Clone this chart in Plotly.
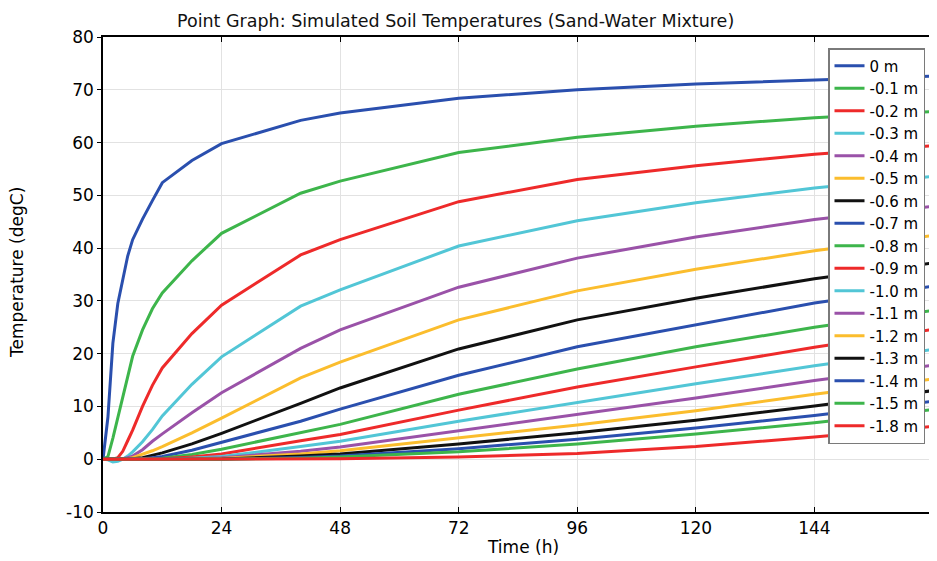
import plotly.graph_objects as go

time_h = [0, 1, 2, 3, 4, 5, 6, 8, 10, 12, 18, 24, 40, 48, 72, 96, 120, 144, 168]

depth_labels = ["0 m", "-0.1 m", "-0.2 m", "-0.3 m", "-0.4 m", "-0.5 m", "-0.6 m",
                "-0.7 m", "-0.8 m", "-0.9 m", "-1.0 m", "-1.1 m", "-1.2 m", "-1.3 m",
                "-1.4 m", "-1.5 m", "-1.8 m"]

t_0m   = [0, 8, 22, 29.5, 34, 38.5, 41.6, 45.5, 49, 52.4, 56.6, 59.8, 64.2, 65.6, 68.4, 70.0, 71.1, 71.9, 72.6]
t_01m  = [0, 0.5, 4, 8, 12, 16, 19.5, 24.5, 28.5, 31.5, 37.6, 42.8, 50.4, 52.7, 58.1, 61.0, 63.1, 64.7, 65.9]
t_02m  = [0, 0, 0, 0.3, 1.5, 3.5, 5.5, 10, 14, 17.3, 23.8, 29.2, 38.7, 41.6, 48.8, 53.0, 55.6, 57.8, 59.4]
t_03m  = [0, -0.1, -0.5, -0.4, 0, 0.6, 1.4, 3.3, 5.6, 8.2, 14.2, 19.4, 29.0, 32.1, 40.4, 45.2, 48.6, 51.4, 53.6]
t_04m  = [0, 0, 0, 0, 0.1, 0.3, 0.6, 1.8, 3.4, 4.8, 8.8, 12.6, 21.0, 24.5, 32.6, 38.1, 42.1, 45.4, 47.9]
t_05m  = [0, 0, 0, 0, 0, 0.1, 0.3, 0.9, 1.6, 2.4, 5.0, 7.8, 15.4, 18.4, 26.4, 31.9, 36.0, 39.5, 42.4]
t_06m  = [0, 0, 0, 0, 0, 0, 0.1, 0.3, 0.7, 1.2, 2.9, 4.9, 10.6, 13.5, 20.9, 26.4, 30.5, 34.2, 37.2]
t_07m  = [0, 0, 0, 0, 0, 0, 0, 0.1, 0.3, 0.5, 1.7, 3.2, 7.2, 9.5, 15.9, 21.3, 25.4, 29.6, 32.8]
t_08m  = [0, 0, 0, 0, 0, 0, 0, 0, 0.1, 0.2, 0.9, 1.9, 5.1, 6.6, 12.3, 17.1, 21.3, 25.0, 28.2]
t_09m  = [0, 0, 0, 0, 0, 0, 0, 0, 0, 0.1, 0.4, 1.0, 3.5, 4.7, 9.3, 13.7, 17.5, 21.2, 24.6]
t_10m  = [0, 0, 0, 0, 0, 0, 0, 0, 0, 0, 0.2, 0.5, 2.4, 3.4, 7.2, 10.8, 14.3, 17.7, 20.8]
t_11m  = [0, 0, 0, 0, 0, 0, 0, 0, 0, 0, 0.1, 0.3, 1.5, 2.3, 5.4, 8.5, 11.6, 14.9, 17.8]
t_12m  = [0, 0, 0, 0, 0, 0, 0, 0, 0, 0, 0, 0.15, 1.0, 1.6, 4.0, 6.5, 9.2, 12.3, 15.2]
t_13m  = [0, 0, 0, 0, 0, 0, 0, 0, 0, 0, 0, 0.05, 0.6, 1.0, 2.9, 5.0, 7.4, 10.1, 13.0]
t_14m  = [0, 0, 0, 0, 0, 0, 0, 0, 0, 0, 0, 0, 0.35, 0.6, 2.0, 3.8, 5.9, 8.3, 11.0]
t_15m  = [0, 0, 0, 0, 0, 0, 0, 0, 0, 0, 0, 0, 0.2, 0.4, 1.4, 2.9, 4.8, 6.9, 9.4]
t_18m  = [0, 0, 0, 0, 0, 0, 0, 0, 0, 0, 0, 0, 0.03, 0.1, 0.4, 1.1, 2.4, 4.2, 6.2]

series = [t_0m, t_01m, t_02m, t_03m, t_04m, t_05m, t_06m, t_07m, t_08m, t_09m,
          t_10m, t_11m, t_12m, t_13m, t_14m, t_15m, t_18m]

x_ticks = [0, 24, 48, 72, 96, 120, 144, 168]
x_tick_text = ["0", "24", "48", "72", "96", "120", "144", ""]
y_ticks = [-10, 0, 10, 20, 30, 40, 50, 60, 70, 80]
y_tick_text = ["-10", "0", "10", "20", "30", "40", "50", "60", "70", "80"]

palette = ["#2a4fae", "#3db54b", "#ee2a2a", "#52c6d6", "#9a52a8", "#fbbd2d", "#111111"]

FONT = "DejaVu Sans"

# page body has an 8px margin: the figure starts at (8, 8)
OFF = 8
W, H = 937 - OFF, 561 - OFF
PL, PR, PT, PB = 103, 933, 37, 512   # plot area in window pixels

fig = go.Figure()
for i, (name, vals) in enumerate(zip(depth_labels, series)):
    fig.add_trace(go.Scatter(
        x=time_h, y=vals, name=name, mode="lines",
        line=dict(color=palette[i % len(palette)], width=3),
    ))

def px(xw):
    return (xw - PL) / (PR - PL)

def py(yw):
    return (PB - yw) / (PB - PT)

fig.update_layout(
    width=W, height=H,
    margin=dict(l=PL - OFF, r=937 - PR, t=PT - OFF, b=561 - PB),
    paper_bgcolor="white", plot_bgcolor="white",
    font=dict(family=FONT, size=17, color="black"),
    showlegend=True,
    legend=dict(
        x=px(828), y=py(48), xanchor="left", yanchor="top",
        bgcolor="white", bordercolor="#7a7a7a", borderwidth=1.5,
        font=dict(family=FONT, size=15, color="black"),
        tracegroupgap=0, itemwidth=30,
    ),
    xaxis=dict(
        range=[0, 168], tickmode="array", tickvals=x_ticks, ticktext=x_tick_text,
        showgrid=True, gridcolor="#e2e2e2", gridwidth=1,
        showline=True, linecolor="black", linewidth=1.5, mirror="ticks",
        ticks="inside", ticklen=5, tickcolor="black", zeroline=False,
        tickfont=dict(family=FONT, size=17),
    ),
    yaxis=dict(
        range=[-10, 80], tickmode="array", tickvals=y_ticks, ticktext=y_tick_text,
        showgrid=True, gridcolor="#e2e2e2", gridwidth=1,
        showline=True, linecolor="black", linewidth=1.5,
        ticks="outside", ticklen=4, tickcolor="black", zeroline=False,
        tickfont=dict(family=FONT, size=17),
    ),
    annotations=[
        dict(text="Point Graph: Simulated Soil Temperatures (Sand-Water Mixture)",
             xref="paper", yref="paper", x=px(455), y=py(9),
             xanchor="center", yanchor="top", showarrow=False,
             font=dict(family=FONT, size=17.5, color="#111")),
        dict(text="Time (h)", xref="paper", yref="paper",
             x=px(523), y=py(547),
             xanchor="center", yanchor="middle", showarrow=False,
             font=dict(family=FONT, size=17)),
        dict(text="Temperature (degC)", xref="paper", yref="paper",
             x=px(17), y=py(273), textangle=-90,
             xanchor="center", yanchor="middle", showarrow=False,
             font=dict(family=FONT, size=17)),
    ],
)

fig.write_html("out.html")
